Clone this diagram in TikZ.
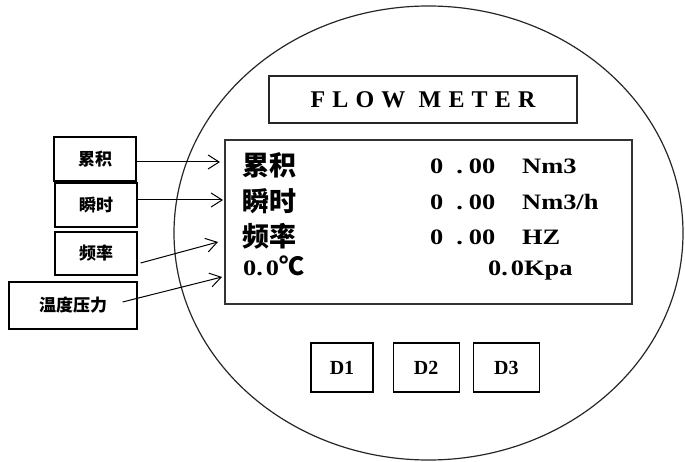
\documentclass[tikz,border=0pt]{standalone}
\usepackage{fontspec}
\setmainfont{Liberation Serif}
\newfontfamily\cjkfont{Noto Sans CJK SC}
\newfontfamily\unitfont{Liberation Serif}[FakeStretch=1.2]
\newfontfamily\titlefont{Liberation Serif}[LetterSpace=30]
\usetikzlibrary{arrows.meta,positioning}
\newcommand{\zeroval}{0\hspace{13pt}.\hspace{6pt}00}
\tikzset{
  tagbox/.style={
    draw=black,
    line width=1.2pt,
    minimum height=44pt,
    inner sep=0pt,
    font=\cjkfont\bfseries\fontsize{17pt}{17pt}\selectfont
  },
  keybox/.style={
    draw=black,
    line width=1.2pt,
    minimum width=66pt,
    minimum height=49pt,
    inner sep=0pt,
    font=\bfseries\fontsize{20pt}{20pt}\selectfont
  },
  panelbox/.style={
    draw=black!80,
    line width=1.3pt,
    minimum width=407pt,
    minimum height=164pt,
    inner sep=0pt
  },
  titlebox/.style={
    draw=black!85,
    line width=1.3pt,
    minimum width=308pt,
    minimum height=47pt,
    inner sep=0pt,
    font=\titlefont\bfseries\fontsize{24pt}{24pt}\selectfont
  },
  cjkline/.style={
    anchor=west,
    inner sep=0pt,
    font=\cjkfont\bfseries\fontsize{27pt}{27pt}\selectfont
  },
  numline/.style={
    anchor=base west,
    inner sep=0pt,
    font=\unitfont\bfseries\fontsize{22pt}{22pt}\selectfont
  },
  pointer/.style={
    -{Straight Barb[length=11pt,width=14pt,line width=1pt]},
    line width=1pt
  }
}

\begin{document}
\begin{tikzpicture}[x=1pt,y=-1pt]
  \useasboundingbox (0,0) rectangle (685,462);
  % meter body
  \draw[line width=1.2pt, black!85] (428.5,233) ellipse [x radius=254.5, y radius=227];

  \node[titlebox] (title) at (423,99.5) {FLOW METER};
  \node[panelbox] (panel) at (428.5,222) {};

  % display lines
  \node[cjkline] (sumname) at (242,165) {累积};
  \node[numline] (sumval) at (430,174) {\zeroval};
  \node[numline] (sumunit) at (522,174) {Nm3};
  \node[cjkline] (instname) at (242,201) {瞬时};
  \node[numline] (instval) at (430,210) {\zeroval};
  \node[numline] (instunit) at (522,210) {Nm3/h};
  \node[cjkline] (freqname) at (242,236) {频率};
  \node[numline] (freqval) at (430,245) {\zeroval};
  \node[numline] (frequnit) at (522,245) {HZ};
  \node[numline] (tempval) at (243,276)
    {0.\hspace{3pt}0\cjkfont\bfseries\fontsize{25pt}{25pt}\selectfont ℃};
  \node[numline] (pressval) at (488,276) {0.\hspace{3pt}0Kpa};

  % keys
  \node[keybox, minimum width=62pt] (d1) at (342,367.5) {D1};
  \node[keybox, right=19pt of d1] (d2) {D2};
  \node[keybox, right=13pt of d2] (d3) {D3};

  % side tags
  \node[tagbox, minimum width=82pt] (tagsum) at (95,159) {累积};
  \node[tagbox, minimum width=82pt] (taginst) at (96,205) {瞬时};
  \node[tagbox, minimum width=82pt, minimum height=43pt] (tagfreq) at (96,253.5) {频率};
  \node[tagbox, minimum width=128pt, minimum height=47pt] (tagtp) at (73,305.5) {温度压力};

  \coordinate (tipsum) at (220,162);
  \coordinate (tipinst) at (223,200);
  \coordinate (tipfreq) at (218,242);
  \coordinate (tiptp) at (222,277);
  \draw[pointer] ([yshift=-3pt]tagsum.east) -- (tipsum);
  \draw[pointer] ([yshift=5pt]taginst.east) -- (tipinst);
  \draw[pointer] ([shift={(3pt,-9.5pt)}]tagfreq.east) -- (tipfreq);
  \draw[pointer] ([shift={(-15pt,3.5pt)}]tagtp.east) -- (tiptp);
\end{tikzpicture}
\end{document}
